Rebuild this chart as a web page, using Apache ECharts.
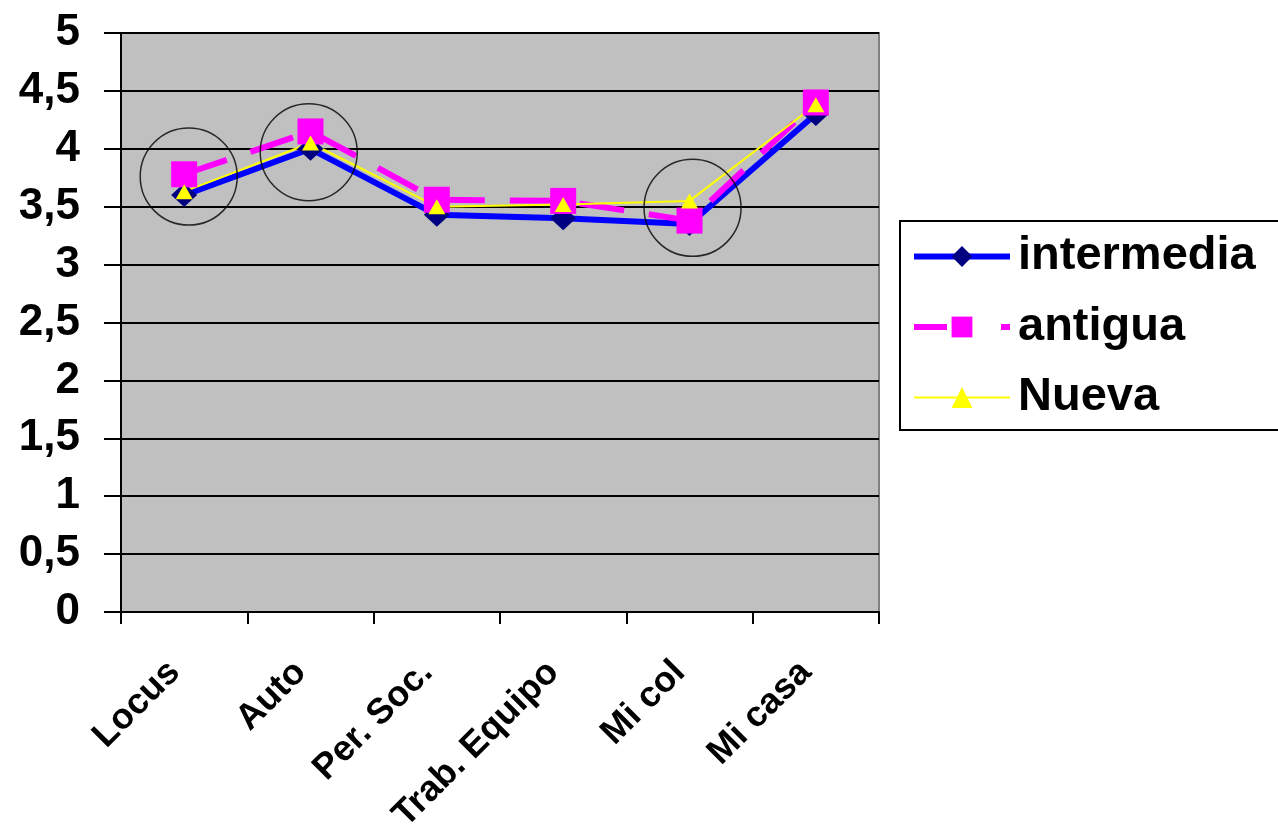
<!DOCTYPE html>
<html>
<head>
<meta charset="utf-8">
<script src="https://cdn.jsdelivr.net/npm/echarts@6/dist/echarts.min.js"></script>
<style>
html,body{margin:0;padding:0;background:#fff;}
#c{width:1278px;height:825px;}
</style>
</head>
<body>
<div id="c"></div>
<script>
var categories = ['Locus', 'Auto', 'Per. Soc.', 'Trab. Equipo', 'Mi col', 'Mi casa'];
var intermedia = [3.60, 4.00, 3.43, 3.40, 3.35, 4.30];
var antigua = [3.78, 4.15, 3.56, 3.55, 3.38, 4.40];
var nueva = [3.63, 4.05, 3.50, 3.52, 3.55, 4.38];
var yTicks = [0, 0.5, 1, 1.5, 2, 2.5, 3, 3.5, 4, 4.5, 5];
// highlighted points (category index offset, value)
var highlightX = [0.036, 0.986, 4.024];
var highlightY = [3.76, 3.97, 3.49];

var FONT = 'Liberation Sans, Arial, sans-serif';
var chart = echarts.init(document.getElementById('c'));
chart.setOption({
  animation: false,
  backgroundColor: '#ffffff',
  grid: {
    left: 121, top: 33, right: 399, bottom: 213,
    outerBoundsMode: 'none', containLabel: false,
    show: true, backgroundColor: '#c0c0c0', borderColor: '#808080', borderWidth: 2
  },
  legend: {
    data: [
      { name: 'intermedia', lineStyle: { width: 6, color: '#0000ff' } },
      { name: 'antigua', lineStyle: { width: 6, color: '#ff00ff', type: [33, 54] } },
      { name: 'Nueva', lineStyle: { width: 2, color: '#ffff00' } }
    ],
    orient: 'vertical',
    left: 900, top: 221,
    padding: [12, 60, 9, 11],
    borderColor: '#000', borderWidth: 2,
    itemWidth: 96, itemHeight: 26, itemGap: 23.5,
    textStyle: { fontFamily: FONT, fontWeight: 'bold', fontSize: 47, color: '#000', padding: [0, 0, 0, 3] }
  },
  xAxis: [{
    type: 'category',
    data: categories,
    boundaryGap: true,
    axisLine: { lineStyle: { color: '#000', width: 2 } },
    axisTick: { show: true, length: 12, lineStyle: { color: '#000', width: 2 } },
    axisLabel: { rotate: 45, margin: 45, padding: [0, 14, 0, 0], interval: 0, fontFamily: FONT, fontWeight: 'bold', fontSize: 36, color: '#000' },
    splitLine: { show: false }
  }, {
    type: 'value', min: -0.5, max: 5.5, show: false,
    axisLine: { show: false }, splitLine: { show: false }
  }],
  yAxis: {
    type: 'value', min: 0, max: 5, interval: 0.5,
    axisLine: { show: true, onZero: false, lineStyle: { color: '#000', width: 2 } },
    axisTick: { show: true, length: 17, lineStyle: { color: '#000', width: 2 } },
    axisLabel: {
      margin: 41, fontFamily: FONT, fontWeight: 'bold', fontSize: 44, color: '#000',
      formatter: function (v) { return yTicks.indexOf(v) >= 0 ? String(v).replace('.', ',') : ''; }
    },
    splitLine: { show: true, lineStyle: { color: '#000', width: 2 } }
  },
  series: [{
    name: 'intermedia', type: 'line', data: intermedia,
    lineStyle: { color: '#0000ff', width: 6 },
    itemStyle: { color: '#000080' },
    symbol: 'diamond', symbolSize: [26, 24], showAllSymbol: true
  }, {
    name: 'antigua', type: 'line', data: antigua,
    lineStyle: { color: '#ff00ff', width: 6, type: [45, 25] },
    itemStyle: { color: '#ff00ff' },
    symbol: 'rect', symbolSize: 26, showAllSymbol: true
  }, {
    name: 'Nueva', type: 'line', data: nueva,
    lineStyle: { color: '#ffff00', width: 2 },
    itemStyle: { color: '#ffff00' },
    symbol: 'triangle', symbolSize: [17, 15], showAllSymbol: true
  }, {
    name: 'highlight', type: 'scatter', xAxisIndex: 1,
    data: highlightX.map(function (x, i) { return [x, highlightY[i]]; }),
    symbol: 'circle', symbolSize: 97,
    itemStyle: { color: 'rgba(0,0,0,0)', borderColor: '#000', borderWidth: 1.5 },
    z: 5, silent: true
  }]
});
</script>
</body>
</html>
